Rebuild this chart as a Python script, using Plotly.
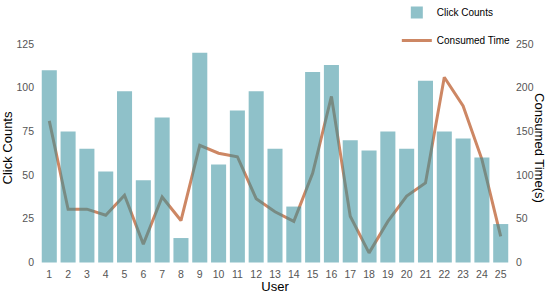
import plotly.graph_objects as go

# Data
users = list(range(1, 26))
click_counts = [110, 75, 65, 52, 98, 47, 83, 14, 120, 56, 87, 98, 65,
                32, 109, 113, 70, 64, 75, 65, 104, 75, 71, 60, 22]
consumed_time = [162, 61, 61, 54, 77, 21, 75, 48, 134, 125, 121, 73, 58,
                 47, 102, 190, 53, 11, 47, 76, 91, 212, 179, 118, 30]

COLORS = {
    "bar": "rgba(51,142,157,0.55)",
    "line": "rgb(205,135,100)",
    "tick": "#555555",
    "text": "#000000",
}
FONT = "Liberation Sans, Arial, sans-serif"

fig = go.Figure()

# line goes on the primary axis so the translucent bars (overlay axis) sit above it
fig.add_trace(go.Scatter(
    x=users, y=consumed_time,
    name="Consumed Time",
    mode="lines",
    line=dict(color=COLORS["line"], width=3),
    yaxis="y",
    legendgroup="b",
    legendrank=2,
))
fig.add_trace(go.Bar(
    x=users, y=click_counts,
    name="Click Counts",
    marker=dict(color=COLORS["bar"], line=dict(width=0)),
    width=0.8,
    yaxis="y2",
    legendgroup="a",
    legendrank=1,
))

fig.update_layout(
    width=550, height=294,
    paper_bgcolor="white",
    plot_bgcolor="white",
    font=dict(family=FONT, color=COLORS["text"], size=11),
    margin=dict(l=38, r=38, t=30, b=28, autoexpand=False),
    xaxis=dict(
        range=[0.4, 25.6],
        tickmode="array", tickvals=users, ticktext=[str(u) for u in users],
        tickfont=dict(color=COLORS["tick"], size=10.5),
        showgrid=False, zeroline=False, showline=False, ticks="",
        automargin=False,
        title=dict(text="User", font=dict(size=13), standoff=0),
    ),
    yaxis=dict(
        side="right",
        range=[-4, 266],
        tickvals=[0, 50, 100, 150, 200, 250],
        tickfont=dict(color=COLORS["tick"], size=10.5),
        ticklabelstandoff=3,
        showgrid=False, zeroline=False, showline=False, ticks="",
        automargin=False,
    ),
    yaxis2=dict(
        overlaying="y", side="left",
        range=[-2, 133],
        tickvals=[0, 25, 50, 75, 100, 125],
        tickfont=dict(color=COLORS["tick"], size=10.5),
        ticklabelstandoff=3,
        showgrid=False, zeroline=False, showline=False, ticks="",
        automargin=False,
        title=dict(text="Click Counts", font=dict(size=13), standoff=4),
    ),
    legend=dict(
        x=0.757, y=1.136, xanchor="left", yanchor="top",
        bgcolor="rgba(0,0,0,0)",
        font=dict(size=10),
        tracegroupgap=9,
        traceorder="grouped",
    ),
    annotations=[dict(
        text="Consumed Time(s)", textangle=90,
        xref="paper", yref="paper", x=1.059, y=0.5,
        xanchor="center", yanchor="middle",
        showarrow=False, font=dict(size=13, color=COLORS["text"]),
    )],
)

# drop the default 8px body margin so the figure fills the window
fig.write_html("out.html", config={"displayModeBar": False},
               post_script="document.body.style.margin='0';")
